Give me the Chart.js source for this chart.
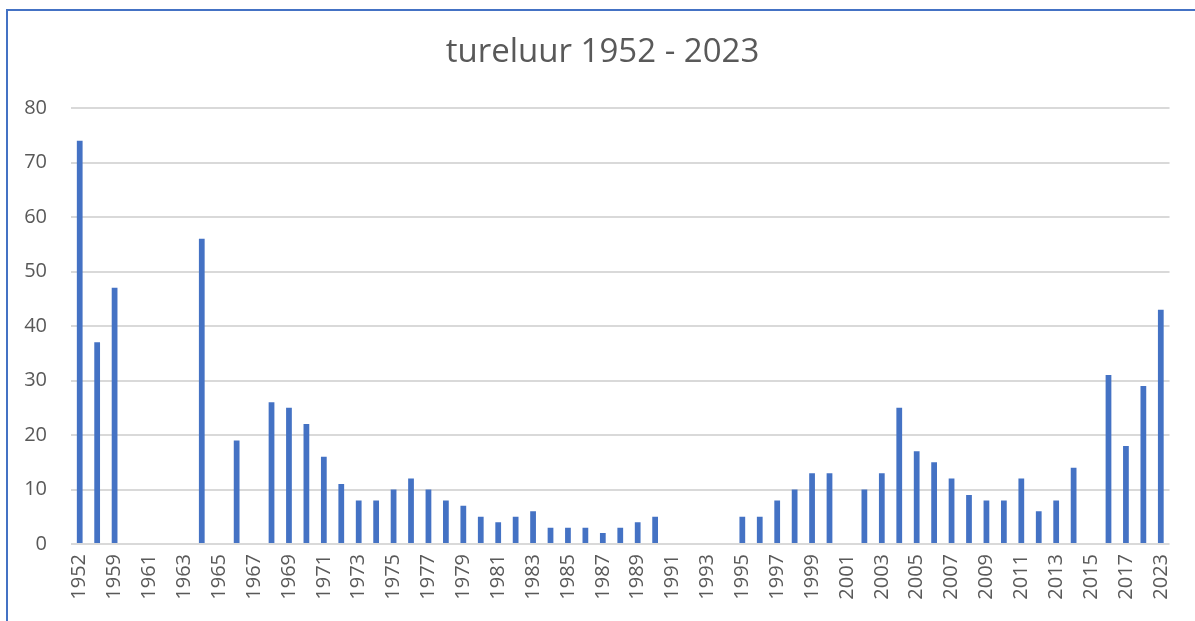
<!DOCTYPE html>
<html>
<head>
<meta charset="utf-8">
<script src="https://cdn.jsdelivr.net/npm/chart.js@4"></script>
<style>
  body { margin: 0; background: #fff; overflow: hidden; }
  .frame { position: absolute; left: 6px; top: 9px; width: 1300px; height: 700px;
           border-left: 2px solid #4472C4; border-top: 2px solid #4472C4; }
  .wrap { position: absolute; left: 0; top: 0; width: 1195px; height: 621px; }
</style>
</head>
<body>
<div class="frame"></div>
<div class="wrap"><canvas id="chart"></canvas></div>
<script>
// jaren (categorieën) en aantallen
const years = ['1952', '1958', '1959', '1960', '1961', '1962', '1963', '1964', '1965', '1966',
    '1967', '1968', '1969', '1970', '1971', '1972', '1973', '1974', '1975', '1976',
    '1977', '1978', '1979', '1980', '1981', '1982', '1983', '1984', '1985', '1986',
    '1987', '1988', '1989', '1990', '1991', '1992', '1993', '1994', '1995', '1996',
    '1997', '1998', '1999', '2000', '2001', '2002', '2003', '2004', '2005', '2006',
    '2007', '2008', '2009', '2010', '2011', '2012', '2013', '2014', '2015', '2016',
    '2017', '2020', '2023'];
const counts = [74, 37, 47, null, null, null, null, 56, null, 19,
    null, 26, 25, 22, 16, 11, 8, 8, 10, 12,
    10, 8, 7, 5, 4, 5, 6, 3, 3, 3,
    2, 3, 4, 5, null, null, null, null, 5, 5,
    8, 10, 13, 13, null, 10, 13, 25, 17, 15,
    12, 9, 8, 8, 12, 6, 8, 14, null, 31,
    18, 29, 43];
const yTicks = [0, 10, 20, 30, 40, 50, 60, 70, 80];
const titleText = 'tureluur 1952 - 2023';

const textColor = '#595959';
const fontFam = "'Open Sans', 'Liberation Sans', sans-serif";

// titel zelf tekenen, gecentreerd op de hele afbeelding (zoals Excel)
const titlePlugin = {
    id: 'pageTitle',
    afterDraw(chart) {
        const c = chart.ctx;
        c.save();
        c.font = `33px ${fontFam}`;
        c.fillStyle = textColor;
        c.textAlign = 'center';
        c.textBaseline = 'middle';
        c.fillText(titleText, chart.width / 2 + 5, 53);
        c.restore();
    }
};

const ctx = document.getElementById('chart').getContext('2d');
new Chart(ctx, {
    type: 'bar',
    data: {
        labels: years,
        datasets: [{
            label: 'tureluur',
            data: counts,
            backgroundColor: '#4472C4',
            borderWidth: 0,
            categoryPercentage: 1,
            barPercentage: 0.33
        }]
    },
    plugins: [titlePlugin],
    options: {
        responsive: true,
        maintainAspectRatio: false,
        animation: false,
        layout: { padding: { top: 108, left: 10, right: 25, bottom: 0 } },
        plugins: {
            legend: { display: false },
            tooltip: { enabled: false },
            title: { display: false }
        },
        scales: {
            x: {
                grid: { display: false, drawTicks: false },
                border: { display: false },
                ticks: {
                    autoSkip: false,
                    maxRotation: 90,
                    minRotation: 90,
                    padding: 10,
                    color: textColor,
                    font: { family: fontFam, size: 20 },
                    // elke tweede jaartal tonen
                    callback: function (value, index) {
                        return index % 2 === 0 ? years[index] : '';
                    }
                },
                afterFit: function (scale) { scale.height = 77; }
            },
            y: {
                min: 0,
                max: 80,
                afterBuildTicks: function (scale) {
                    scale.ticks = yTicks.map(v => ({ value: v }));
                },
                grid: { color: '#d9d9d9', lineWidth: 2, drawTicks: false },
                border: { display: false },
                ticks: {
                    padding: 24,
                    color: textColor,
                    font: { family: fontFam, size: 20 }
                },
                afterFit: function (scale) { scale.width = 61; }
            }
        }
    }
});
</script>
</body>
</html>
